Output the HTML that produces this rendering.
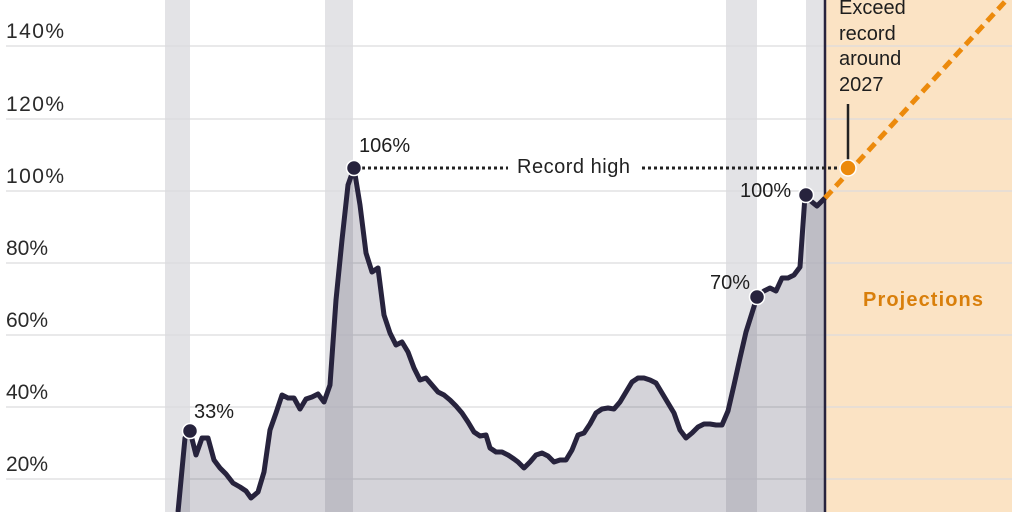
<!DOCTYPE html>
<html><head><style>body{margin:0;background:#fff}svg{display:block}text{font-family:"Liberation Sans",sans-serif}</style></head>
<body>
<svg width="1024" height="512" viewBox="0 0 1024 512">
<rect x="825" y="0" width="187" height="512" fill="#fbe3c4"/>
<g fill="#e3e3e6">
<rect x="165" y="0" width="25" height="512"/>
<rect x="325" y="0" width="28" height="512"/>
<rect x="726" y="0" width="31" height="512"/>
<rect x="806" y="0" width="18" height="512"/>
</g>
<g stroke="#dcdcde" stroke-width="1.3">
<line x1="6" x2="1012" y1="46" y2="46"/><line x1="6" x2="1012" y1="119" y2="119"/>
<line x1="6" x2="1012" y1="191" y2="191"/><line x1="6" x2="1012" y1="263" y2="263"/>
<line x1="6" x2="1012" y1="335" y2="335"/><line x1="6" x2="1012" y1="407" y2="407"/>
<line x1="6" x2="1012" y1="479" y2="479"/>
</g>
<g font-size="21" fill="#2a2a2a">
<text x="6" y="38" textLength="58">140%</text><text x="6" y="111" textLength="58">120%</text><text x="6" y="183" textLength="58">100%</text>
<text x="6" y="255">80%</text><text x="6" y="327">60%</text><text x="6" y="399">40%</text><text x="6" y="471">20%</text>
</g>
<polygon fill="#3a3550" fill-opacity="0.22" points="176,512 178,512 185,438 190,431 196,455 202,438 208,438 214,460 220,468 226,474 233,483 240,487 246,491 251,498 258,492 264,472 270,430 276,413 282,395 288,398 294,398 300,409 306,399 312,397 318,394 324,402 330,385 336,300 342,240 348,185 354,168 360,205 366,253 372,272 378,268 384,315 390,333 396,345 402,342 408,352 414,368 420,380 426,378 432,385 438,392 444,395 450,400 456,406 462,413 468,422 474,432 480,436 486,435 490,448 496,452 502,452 508,455 514,459 518,462 524,468 530,462 536,455 542,453 548,456 554,462 560,460 566,460 572,450 578,435 584,433 590,424 596,413 602,409 608,408 614,409 620,402 626,392 632,382 638,378 644,378 650,380 656,383 662,393 668,403 674,413 680,430 686,438 692,433 698,427 704,424 710,424 716,425 722,425 728,411 734,385 740,358 746,332 752,313 757,297 764,291 770,288 776,291 782,278 788,278 794,275 800,267 805,196 812,202 817,206 822,201 825,198 825,512"/>
<polyline fill="none" stroke="#27233d" stroke-width="5" stroke-linejoin="round" points="176,512 178,512 185,438 190,431 196,455 202,438 208,438 214,460 220,468 226,474 233,483 240,487 246,491 251,498 258,492 264,472 270,430 276,413 282,395 288,398 294,398 300,409 306,399 312,397 318,394 324,402 330,385 336,300 342,240 348,185 354,168 360,205 366,253 372,272 378,268 384,315 390,333 396,345 402,342 408,352 414,368 420,380 426,378 432,385 438,392 444,395 450,400 456,406 462,413 468,422 474,432 480,436 486,435 490,448 496,452 502,452 508,455 514,459 518,462 524,468 530,462 536,455 542,453 548,456 554,462 560,460 566,460 572,450 578,435 584,433 590,424 596,413 602,409 608,408 614,409 620,402 626,392 632,382 638,378 644,378 650,380 656,383 662,393 668,403 674,413 680,430 686,438 692,433 698,427 704,424 710,424 716,425 722,425 728,411 734,385 740,358 746,332 752,313 757,297 764,291 770,288 776,291 782,278 788,278 794,275 800,267 805,196 812,202 817,206 822,201 825,198"/>
<line x1="825" y1="0" x2="825" y2="512" stroke="#27233d" stroke-width="2.5"/>
<line x1="362" y1="168" x2="508" y2="168" stroke="#222" stroke-width="3" stroke-dasharray="3,3"/>
<line x1="642" y1="168" x2="840" y2="168" stroke="#222" stroke-width="3" stroke-dasharray="3,3"/>
<text x="517" y="173" font-size="20" fill="#222" textLength="113">Record high</text>
<line x1="825" y1="198" x2="1012" y2="-6" stroke="#ec8a0c" stroke-width="5" stroke-dasharray="10,6"/>
<line x1="848" y1="104" x2="848" y2="160" stroke="#222" stroke-width="2.5"/>
<g font-size="20" fill="#1e1e1e">
<text x="839" y="14">Exceed</text><text x="839" y="40">record</text><text x="839" y="65">around</text><text x="839" y="91">2027</text>
<text x="194" y="418">33%</text><text x="359" y="152">106%</text>
<text x="710" y="289">70%</text><text x="740" y="197">100%</text>
</g>
<text x="863" y="306" font-size="20" font-weight="bold" fill="#d97f0b" textLength="120">Projections</text>
<g stroke="#fff" stroke-width="1.5" fill="#27233d">
<circle cx="190" cy="431" r="7.5"/><circle cx="354" cy="168" r="7.5"/>
<circle cx="757" cy="297" r="7.5"/><circle cx="806" cy="195" r="7.5"/>
</g>
<circle cx="848" cy="168" r="8" fill="#ec8a0c" stroke="#fff" stroke-width="1.5"/>
</svg>
</body></html>
